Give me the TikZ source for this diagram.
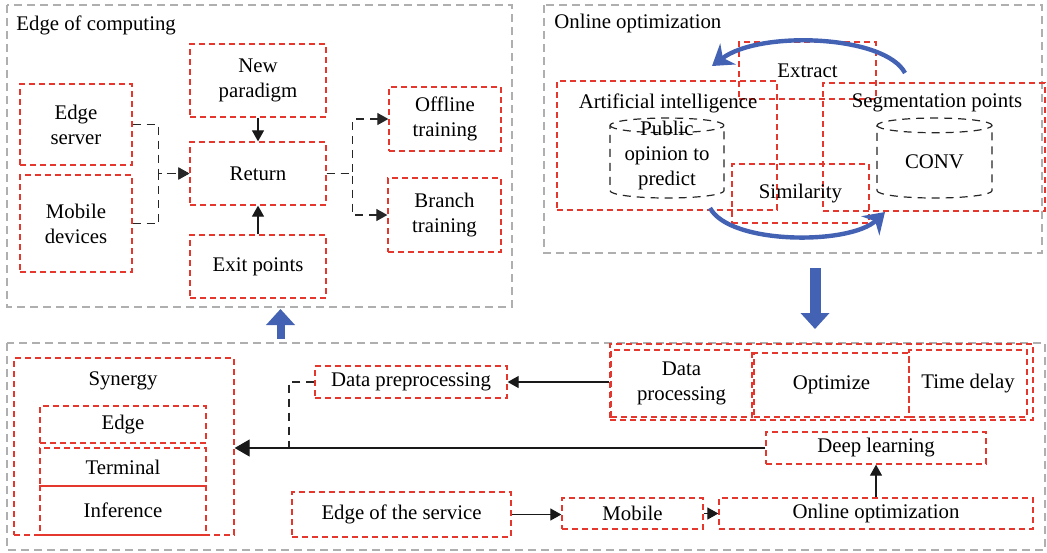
\documentclass[tikz,border=0pt]{standalone}
\usepackage{fontspec}
\setmainfont{Liberation Serif}
\usepackage{tikz}
\usetikzlibrary{arrows.meta, positioning, shapes.geometric}
\definecolor{redline}{RGB}{228,55,45}
\definecolor{greyline}{RGB}{175,175,175}
\definecolor{bluearrow}{RGB}{68,98,180}

\begin{document}
\begin{tikzpicture}[x=0.5pt, y=-0.5pt, >={Triangle[length=5.5pt,width=6pt]},
    every node/.style={font=\fontsize{10.4}{12.5}\selectfont, align=center},
    redbox/.style={draw=redline, line width=0.65pt, dash pattern=on 3pt off 2pt, inner sep=0pt},
    greybox/.style={draw=greyline, line width=0.6pt, dash pattern=on 4pt off 2.5pt},
    blackdash/.style={draw=black!85, line width=0.6pt, dash pattern=on 4pt off 3pt},
    solidline/.style={draw=black!90, line width=0.6pt},
    drum/.style={cylinder, shape border rotate=90, aspect=0.25, blackdash, inner sep=0pt},
    bluecurve/.style={draw=bluearrow, line width=2.2pt, -{Stealth[length=10pt,width=13pt]}},
    fatarrow/.style={draw=bluearrow, -{Triangle[length=8pt,width=14pt]}}]
    \useasboundingbox (0,0) rectangle (1047,552);

    % Edge of computing panel
    \draw[greybox] (7,5) rectangle (512,307);
    \node[anchor=west, inner sep=0pt] (edgetitle) at (16,25) {Edge of computing};
    \node[redbox, minimum width=56pt, minimum height=40.5pt] (edgeserver) at (76,124.5) {Edge\\server};
    \node[redbox, minimum width=56pt, minimum height=48.5pt] (mobiledev) at (76,223.5) {Mobile\\devices};
    \node[redbox, minimum width=68pt, minimum height=36.5pt] (newpar) at (258,80.5) {New\\paradigm};
    \node[redbox, minimum width=68pt, minimum height=31.5pt] (return) at (258,173.5) {Return};
    \node[redbox, minimum width=68pt, minimum height=31.5pt] (exitpts) at (258,266.5) {Exit points};
    \node[redbox, minimum width=56pt, minimum height=32pt] (offline) at (445,119) {Offline\\training};
    \node[redbox, minimum width=56.5pt, minimum height=37pt] (branch) at (444.5,215) {Branch\\training};

    \draw[blackdash, ->] (edgeserver.east) -- ++(13pt,0) |- (return.west);
    \draw[blackdash, ->] (mobiledev.east) -- ++(13pt,0) |- (return.west);
    \draw[blackdash, ->] (return.east) -- ++(13pt,0) |- (offline.west);
    \draw[blackdash, ->] (return.east) -- ++(13pt,0) |- (branch.west);
    \draw[solidline, ->] (newpar) -- (return);
    \draw[solidline, ->] (exitpts) -- (return);

    % Online optimization panel
    \draw[greybox] (544,5) rectangle (1042,253);
    \node[anchor=west, inner sep=0pt] (onlinetitle) at (554,23) {Online optimization};
    \node[redbox, minimum width=68.5pt, minimum height=28.5pt] (extract) at (807.5,70.5) {Extract};
    \node[redbox, minimum width=110pt, minimum height=64.5pt] (aibox) at (667,145.5) {};
    \node (aititle) at (668,103) {Artificial intelligence};
    \node[redbox, minimum width=111pt, minimum height=64pt] (segbox) at (934,147) {};
    \node (segtitle) at (937,103) {Segmentation points};
    \node[redbox, minimum width=68.5pt, minimum height=29.5pt] (similar) at (800.5,193.5) {Similarity};
    \node[drum, minimum width=57pt, minimum height=40pt] (pubdrum) at (667,162) {\phantom{CONV}};
    \node (pubtext) at (667,155) {Public\\opinion to\\predict};
    \node[drum, minimum width=57.5pt, minimum height=40pt] (convdrum) at (934.5,162) {CONV};

    \coordinate (topfrom) at (905,73);
    \coordinate (topto) at (712,66);
    \coordinate (botfrom) at (710,208);
    \coordinate (botto) at (885,212);
    \draw[bluecurve] (topfrom) .. controls (885,35) and (760,30) .. (topto);
    \draw[bluecurve] (botfrom) .. controls (730,245) and (850,245) .. (botto);

    % Panel links
    \coordinate (upfrom) at (280.5,339);
    \coordinate (upto) at (280.5,309);
    \coordinate (downfrom) at (815,268);
    \coordinate (downto) at (815,329);
    \draw[fatarrow, line width=4pt] (upfrom) -- (upto);
    \draw[fatarrow, line width=5.5pt] (downfrom) -- (downto);

    % Synergy panel
    \draw[greybox] (7,343) rectangle (1045,550);
    \node[redbox, minimum width=110pt, minimum height=88.5pt] (synergy) at (124,446.5) {};
    \node (syntitle) at (123,381) {Synergy};
    \node[redbox, minimum width=83pt, minimum height=18.5pt] (edge) at (123,424.5) {Edge};
    \node[redbox, minimum width=83pt, minimum height=19pt] (terminal) at (123,467) {Terminal};
    \node[redbox, minimum width=83pt, minimum height=24.5pt] (inference) at (123,510.5) {Inference};

    \node[redbox, minimum width=96pt, minimum height=16pt] (dataprep) at (411,382) {Data preprocessing};
    \node[redbox, minimum width=211.5pt, minimum height=38pt] (dpgroup) at (821.5,382) {};
    \node[redbox, minimum width=70.5pt, minimum height=33.5pt] (dataproc) at (681.5,383.5) {Data\\processing};
    \node[redbox, minimum width=77.5pt, minimum height=32pt] (optimize) at (831.5,385) {Optimize};
    \node[redbox, minimum width=59pt, minimum height=33.5pt] (timedelay) at (968,383.5) {Time delay};
    \node[redbox, minimum width=110pt, minimum height=16pt] (deeplearn) at (876,448) {Deep learning};
    \node[redbox, minimum width=109.5pt, minimum height=22.5pt] (edgeserv) at (401.5,514.5) {Edge of the service};
    \node[redbox, minimum width=70.5pt, minimum height=15.5pt] (mobile) at (632.5,513.5) {Mobile};
    \node[redbox, minimum width=157pt, minimum height=15.5pt] (onlineopt) at (876,513.5) {Online optimization};

    \coordinate (prejoin) at (289,448);
    \draw[solidline, ->] (dpgroup.west |- dataprep) -- (dataprep.east);
    \draw[blackdash] (dataprep.west) -| (prejoin);
    \draw[solidline, -{Triangle[length=7.5pt,width=8.5pt]}] (deeplearn.west) -- (deeplearn.west -| synergy.east);
    \draw[solidline, ->] (edgeserv.east) -- (mobile.west |- edgeserv.east);
    \draw[solidline, ->] (mobile.east) -- (onlineopt.west |- mobile.east);
    \draw[solidline, ->] (onlineopt.north) -- (deeplearn.south);
\end{tikzpicture}
\end{document}
